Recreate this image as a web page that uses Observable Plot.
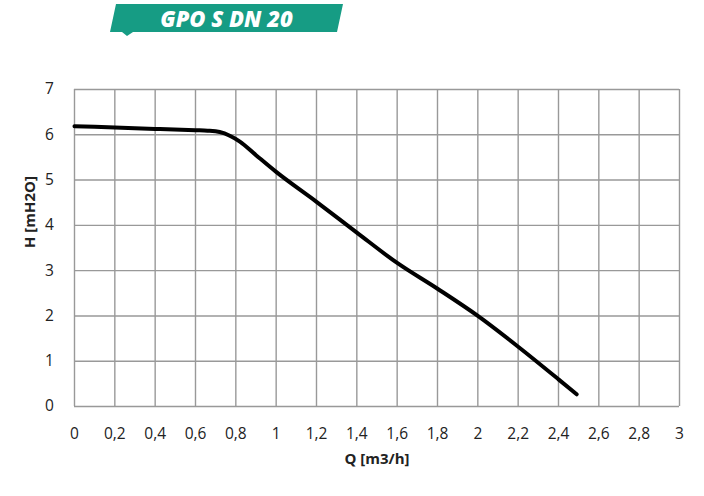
<!DOCTYPE html>
<html>
<head>
<meta charset="utf-8">
<script src="https://cdn.jsdelivr.net/npm/d3@7"></script>
<script src="https://cdn.jsdelivr.net/npm/@observablehq/plot@0.6"></script>
<style>
  html, body { margin: 0; padding: 0; background: #fff; }
  #wrap { position: relative; width: 704px; height: 496px; font-family: "Open Sans", "Noto Sans", sans-serif; }
  #banner { position: relative; width: 704px; height: 40px; }
  #banner svg { position: absolute; left: 0; top: 0; }
  #title { position: absolute; left: 110px; width: 233px; top: 3px; text-align: center; color: #fff;
           font-family: "Open Sans", sans-serif; font-weight: 800; font-style: italic; font-size: 22px; line-height: 30px; }
</style>
</head>
<body>
<div id="wrap">
  <div id="banner">
    <svg width="704" height="40">
      <polygon points="116,4 343,4 337,32 133,32 127,36 122,32 110,32" fill="#169c84"></polygon>
    </svg>
    <div id="title">GPO S DN 20</div>
  </div>
  <div id="chart"></div>
</div>
<script>
const flow = [0, 0.2, 0.4, 0.6, 0.66, 0.72, 0.77, 0.82, 0.9, 1.0, 1.2, 1.4, 1.6, 1.8, 2.0, 2.2, 2.4, 2.49];
const head = [6.19, 6.16, 6.13, 6.10, 6.09, 6.06, 5.98, 5.85, 5.55, 5.18, 4.52, 3.84, 3.17, 2.6, 2.0, 1.32, 0.6, 0.27];
const xTicks = [0, 0.2, 0.4, 0.6, 0.8, 1, 1.2, 1.4, 1.6, 1.8, 2, 2.2, 2.4, 2.6, 2.8, 3];
const yTicks = [0, 1, 2, 3, 4, 5, 6, 7];
const xLabel = "Q [m3/h]";
const yLabel = "H [mH2O]";

const data = flow.map((q, i) => ({q, h: head[i]}));
const fmt = d => String(d).replace(".", ",");

const chart = Plot.plot({
  width: 704,
  height: 456,
  marginLeft: 74,
  marginRight: 25,
  marginTop: 49,
  marginBottom: 90,
  style: {fontFamily: "Open Sans, Noto Sans, sans-serif", fontSize: "15px", color: "#222", background: "#fff"},
  x: {domain: [0, 3], ticks: xTicks, tickFormat: fmt, label: null},
  y: {domain: [0, 7], ticks: yTicks, tickFormat: fmt, label: null},
  marks: [
    Plot.gridX(xTicks, {stroke: "#999", strokeOpacity: 1, strokeWidth: 1.4}),
    Plot.gridY(yTicks, {stroke: "#999", strokeOpacity: 1, strokeWidth: 1.4}),
    Plot.axisX({ticks: xTicks, tickFormat: fmt, tickSize: 0, tickPadding: 21, label: null, fontSize: 15.5}),
    Plot.axisY({ticks: yTicks, tickFormat: fmt, tickSize: 0, tickPadding: 20, label: null, fontSize: 15.5, textAnchor: "middle", dx: -5}),
    Plot.text([xLabel], {frameAnchor: "bottom", dy: 57, fontWeight: "bold", fontSize: 15, fill: "#222"}),
    Plot.text([yLabel], {frameAnchor: "left", dx: -44, rotate: -90, fontWeight: "bold", fontSize: 15, fill: "#222"}),
    Plot.line(data, {x: "q", y: "h", stroke: "#000", strokeWidth: 4, curve: "monotone-x", strokeLinecap: "round", strokeLinejoin: "round"})
  ]
});
document.getElementById("chart").appendChild(chart);
</script>
</body>
</html>
